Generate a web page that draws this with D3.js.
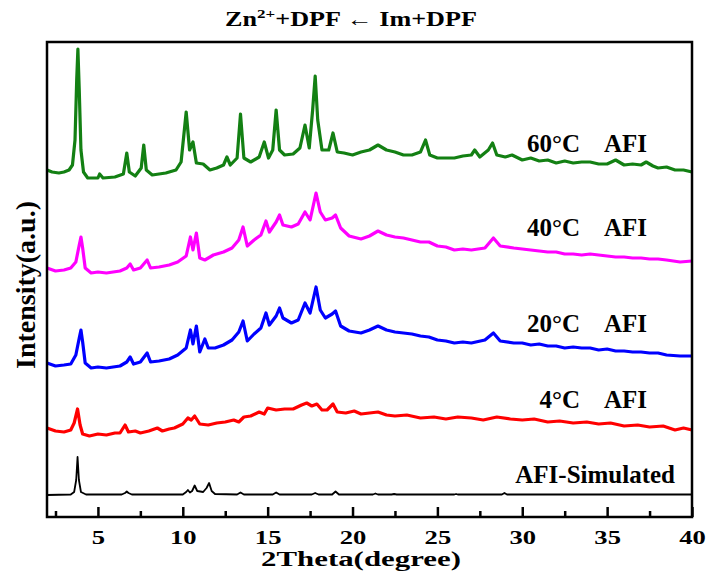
<!DOCTYPE html>
<html>
<head>
<meta charset="utf-8">
<script src="https://cdn.jsdelivr.net/npm/d3@7/dist/d3.min.js"></script>
<style>
  body { margin: 0; background: #fff; }
  text { font-family: "Liberation Serif", "Times New Roman", serif; font-weight: bold; fill: #000; }
</style>
</head>
<body>
<svg id="chart" width="712" height="584"></svg>
<script>
"use strict";

// x axis ticks
var majorTicks = [5, 10, 15, 20, 25, 30, 35, 40];
var minorTicks = [2.5, 7.5, 12.5, 17.5, 22.5, 27.5, 32.5, 37.5];

// series, bottom to top
var seriesNames = ['AFI-Simulated', '4°C', '20°C', '40°C', '60°C'];
var seriesColors = ['#000000', '#ff0000', '#0000ff', '#ff00ff', '#138013'];
var seriesOffsets = [22, 87, 152, 247, 344];

// [2theta, intensity]
var simulated = [
  [2, 0], [3.4, 0.5], [3.6, 3], [3.72, 15], [3.8, 38], [3.88, 15], [4, 3], [4.3, 0.5],
  [6.4, 0.5], [6.6, 2], [6.7, 3.5], [6.8, 2], [7, 0.5], [10, 0.5], [10.2, 3], [10.3, 5],
  [10.42, 2.5], [10.55, 4], [10.7, 9.5], [10.85, 4], [11.2, 3], [11.4, 7], [11.55, 12],
  [11.7, 4], [11.9, 1], [13.2, 0.5], [13.4, 2.5], [13.6, 0.5], [15.3, 0.5], [15.5, 2.5],
  [15.7, 0.5], [17.6, 0.5], [17.8, 2], [18, 0.5], [18.8, 0.5], [19, 3.5], [19.2, 0.5],
  [21.2, 0.5], [21.35, 1.5], [21.5, 0.5], [22.3, 0.5], [22.45, 1], [22.6, 0.5],
  [26, 0.5], [26.1, 1], [26.2, 0.5], [28.8, 0.5], [28.95, 2], [29.1, 0.5], [34.5, 0.5], [40, 0.5]
];

var afi4 = [
  [2, 2], [2.5, -1], [3, -2], [3.4, 0], [3.6, 7], [3.8, 21], [3.95, 5], [4.1, -4], [4.5, -6],
  [5, -4], [5.5, -5], [6, -3], [6.3, -3], [6.6, 5], [6.8, -2], [7.2, -1], [7.5, -3], [8, -1],
  [8.5, 2], [8.8, -1], [9.2, 1], [9.5, 2], [10, 6], [10.3, 12], [10.5, 10], [10.7, 14],
  [11, 6], [11.5, 5], [12, 7], [12.5, 8], [13, 10], [13.3, 8], [13.6, 13], [14, 14],
  [14.5, 18], [14.8, 16], [15, 22], [15.5, 20], [16, 21], [16.5, 21], [17, 25], [17.3, 27],
  [17.6, 24], [17.9, 26], [18.2, 20], [18.5, 20], [18.85, 26], [19.1, 18], [19.6, 17],
  [20.1, 19], [20.5, 16], [21, 17], [21.5, 18], [22, 15], [22.5, 14], [23.2, 15], [24, 12],
  [24.8, 13], [25.5, 11], [26.2, 13], [27, 12], [27.7, 10], [28.5, 13], [29.3, 11], [30, 10],
  [30.7, 11], [31.5, 8], [32.2, 9], [33, 7], [33.8, 8], [34.5, 6], [35.2, 7], [36, 4],
  [36.8, 5], [37.5, 3], [38.3, 4], [39, 0], [39.5, 2], [40, 0]
];

var afi20 = [
  [2, 2], [2.5, -1], [3, 0], [3.4, 1], [3.7, 10], [3.9, 27], [4, 35], [4.1, 23], [4.25, 2],
  [4.6, -3], [5, -2], [5.5, -3], [6.3, -1], [6.7, 3], [6.9, 8], [7.1, 1], [7.5, 3], [7.9, 12],
  [8.1, 3], [8.6, 4], [9.2, 6], [9.7, 10], [10.2, 17], [10.45, 35], [10.6, 21], [10.8, 39],
  [11, 13], [11.3, 26], [11.5, 17], [11.9, 17], [12.4, 20], [12.9, 25], [13.3, 33],
  [13.55, 44], [13.8, 24], [14.2, 31], [14.6, 37], [14.9, 52], [15.1, 40], [15.5, 49],
  [15.7, 57], [15.9, 47], [16.4, 42], [16.8, 45], [17.2, 62], [17.5, 52], [17.85, 78],
  [18.1, 55], [18.4, 47], [18.8, 51], [19, 54], [19.3, 39], [19.8, 34], [20.5, 32],
  [21, 35], [21.5, 39], [22, 35], [22.5, 33], [23, 32], [23.5, 31], [24, 29], [24.5, 28],
  [25, 25], [25.5, 24], [26, 22], [26.5, 23], [27, 22], [27.8, 25], [28.3, 32], [28.7, 24],
  [29.5, 22], [30, 22], [30.5, 20], [31, 21], [31.5, 19], [32, 19], [32.5, 17], [33, 18],
  [33.5, 17], [34, 17], [34.5, 15], [35, 16], [35.5, 14], [36, 14], [36.5, 13], [37, 13],
  [37.5, 12], [38, 12], [38.5, 10], [39.3, 9], [40, 9]
];

var afi40 = [
  [2, 2], [2.5, -1], [3, 0], [3.4, 2], [3.7, 8], [3.9, 25], [4, 33], [4.1, 22], [4.25, 2],
  [4.6, -3], [5, -2], [5.5, -3], [6.3, -1], [6.7, 2], [6.9, 6], [7.1, 0], [7.5, 2], [7.9, 10],
  [8.1, 2], [8.6, 3], [9.2, 5], [9.7, 8], [10.2, 14], [10.45, 33], [10.6, 20], [10.8, 37],
  [11, 12], [11.3, 10], [11.8, 15], [12.4, 18], [12.9, 22], [13.3, 30], [13.55, 43],
  [13.8, 24], [14.2, 30], [14.6, 35], [14.9, 49], [15.1, 38], [15.5, 48], [15.7, 55],
  [15.9, 45], [16.4, 43], [16.8, 46], [17.2, 58], [17.5, 50], [17.85, 77], [18.1, 58],
  [18.4, 50], [18.8, 52], [19, 55], [19.3, 42], [19.8, 34], [20.5, 31], [21, 34],
  [21.5, 39], [22, 35], [22.5, 33], [23, 32], [23.5, 30], [24, 28], [24.5, 28], [25, 24],
  [25.5, 23], [26, 20], [26.5, 21], [27, 20], [27.8, 22], [28.3, 32], [28.7, 24], [29.5, 22],
  [30, 21], [30.5, 20], [31, 19], [31.5, 18], [32, 18], [32.5, 16], [33, 16], [33.5, 15],
  [34, 16], [34.5, 15], [35, 14], [35.5, 13], [36, 13], [36.5, 12], [37, 12], [37.5, 11],
  [38, 11], [38.5, 10], [39.3, 8], [40, 9]
];

var afi60 = [
  [2, 3], [2.3, 1], [2.7, 0], [3, 1], [3.3, 3], [3.5, 8], [3.65, 33], [3.75, 93], [3.82, 124],
  [3.9, 83], [4, 23], [4.15, 1], [4.4, -5], [5, -5], [5.1, -1], [5.3, -5], [6, -4],
  [6.5, -1], [6.7, 20], [6.85, 1], [7.2, -3], [7.55, 5], [7.7, 28], [7.85, 3], [8.2, -2],
  [9, 0], [9.6, 3], [9.9, 11], [10.2, 61], [10.4, 23], [10.6, 31], [10.8, 10], [11.2, 9],
  [11.6, 3], [12, 5], [12.4, 8], [12.6, 16], [12.8, 8], [13.2, 15], [13.4, 59], [13.6, 15],
  [14, 11], [14.5, 16], [14.8, 31], [15.05, 15], [15.3, 23], [15.5, 63], [15.7, 23],
  [16, 18], [16.5, 19], [16.9, 25], [17.2, 48], [17.45, 25], [17.65, 63], [17.8, 97],
  [17.95, 53], [18.2, 23], [18.6, 23], [18.85, 40], [19.1, 21], [19.5, 20], [20, 18],
  [20.5, 21], [21, 23], [21.5, 28], [22, 23], [22.5, 21], [23, 18], [23.5, 18], [24, 21],
  [24.3, 33], [24.55, 18], [25, 15], [25.5, 15], [26, 15], [26.5, 17], [27, 18], [27.2, 23],
  [27.5, 16], [28, 23], [28.25, 30], [28.5, 18], [29, 16], [29.4, 18], [30, 13], [30.5, 15],
  [31, 12], [31.5, 13], [32, 10], [32.5, 12], [33, 10], [33.5, 11], [34, 11], [34.5, 9],
  [35, 9], [35.5, 13], [36, 8], [36.5, 9], [37, 8], [37.3, 11], [37.7, 7], [38, 5], [38.5, 6],
  [39, 3], [39.5, 3], [40, 1]
];

var seriesData = [simulated, afi4, afi20, afi40, afi60];

var svg = d3.select('#chart');
var plotLeft = 47, plotRight = 692, plotTop = 42, plotBottom = 517;

var x = d3.scaleLinear().domain([2, 40]).range([plotLeft, plotRight]);
var y = d3.scaleLinear().domain([0, 475]).range([plotBottom, plotTop]);

var line = d3.line()
  .x(function(d) { return x(d[0]); })
  .y(function(d) { return y(d[1]); });

svg.append('g')
  .selectAll('path')
  .data(seriesData)
  .enter()
  .append('path')
  .attr('fill', 'none')
  .attr('stroke', function(d, i) { return seriesColors[i]; })
  .attr('stroke-width', function(d, i) { return i === 0 ? 1.8 : 3.2; })
  .attr('stroke-linejoin', 'round')
  .attr('d', function(d, i) {
    var off = seriesOffsets[i];
    return line(d.map(function(p) { return [p[0], p[1] + off]; }));
  });

// bottom axis, ticks pointing inward
var axis = svg.append('g')
  .attr('transform', 'translate(0,' + plotBottom + ')')
  .call(d3.axisBottom(x).tickValues(majorTicks).tickSize(-10).tickFormat(d3.format('d')));
axis.select('.domain').remove();
axis.selectAll('line').attr('stroke', '#000').attr('stroke-width', 2.5);
axis.selectAll('text')
  .attr('y', 27).attr('dy', 0)
  .attr('font-size', 18)
  .attr('textLength', function(d) { return String(d).length * 13.3; })
  .attr('lengthAdjust', 'spacingAndGlyphs');

var minor = svg.append('g')
  .attr('transform', 'translate(0,' + plotBottom + ')')
  .call(d3.axisBottom(x).tickValues(minorTicks).tickSize(-6).tickFormat(''));
minor.select('.domain').remove();
minor.selectAll('line').attr('stroke', '#000').attr('stroke-width', 2.5);

// frame
svg.append('rect')
  .attr('x', plotLeft).attr('y', plotTop)
  .attr('width', plotRight - plotLeft).attr('height', plotBottom - plotTop)
  .attr('fill', 'none').attr('stroke', '#000').attr('stroke-width', 2.5);

// series labels
var labelBase = [483, 408, 332, 236, 152];
seriesNames.forEach(function(name, i) {
  if (i === 0) {
    svg.append('text').attr('x', 675).attr('y', labelBase[i])
      .attr('text-anchor', 'end').attr('font-size', 25).text(name);
  } else {
    svg.append('text').attr('x', 580).attr('y', labelBase[i])
      .attr('text-anchor', 'end').attr('font-size', 25).text(name);
    svg.append('text').attr('x', 647).attr('y', labelBase[i])
      .attr('text-anchor', 'end').attr('font-size', 25).text('AFI');
  }
});

// stretch a text horizontally to a given width, centred on cx
var fitWidth = function(sel, cx, baseline, width) {
  var w = sel.node().getComputedTextLength();
  sel.attr('text-anchor', 'middle')
    .attr('transform', 'translate(' + cx + ',' + baseline + ') scale(' + (width / w) + ',1)');
};

// title
var title = svg.append('text').attr('font-size', 20);
title.append('tspan').text('Zn');
title.append('tspan').attr('dy', -8).attr('font-size', 13).text('2+');
title.append('tspan').attr('dy', 8).text('+DPF \u2190 Im+DPF');
fitWidth(title, 351, 26, 252);

// axis titles
var xTitle = svg.append('text').attr('font-size', 20).text('2Theta(degree)');
fitWidth(xTitle, 361, 566, 200);

svg.append('text')
  .attr('transform', 'translate(35,285) rotate(-90)')
  .attr('text-anchor', 'middle').attr('font-size', 28)
  .text('Intensity(a.u.)');
</script>
</body>
</html>
